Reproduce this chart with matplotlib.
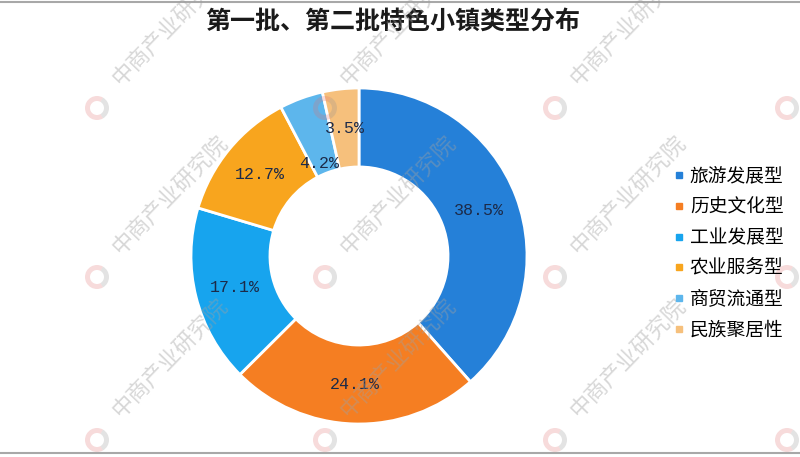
import matplotlib
matplotlib.use("Agg")
import matplotlib.pyplot as plt
import numpy as np
from matplotlib.lines import Line2D
from matplotlib.patches import Wedge

plt.rcParams["font.family"] = ["Noto Sans CJK SC", "DejaVu Sans"]

title = "第一批、第二批特色小镇类型分布"
categories = ["旅游发展型", "历史文化型", "工业发展型", "农业服务型", "商贸流通型", "民族聚居性"]
shares = [38.5, 24.1, 17.1, 12.7, 4.2, 3.5]
colors = ["#2580D8", "#F57E22", "#17A4EE", "#F8A51E", "#5DB6EC", "#F6C07C"]
watermark = "中商产业研究院"

W, H = 800, 457
fig = plt.figure(figsize=(W / 100, H / 100), dpi=100)

# pie centre at (359, 256) px, outer radius 168 px
cx, cy, R = 359, 256, 168
ax = fig.add_axes([(cx - R) / W, 1 - (cy + R) / H, 2 * R / W, 2 * R / H])

pct_labels = iter([f"{v}%" for v in shares])
wedges, _, autotexts = ax.pie(
    shares, colors=colors, startangle=90, counterclock=False,
    autopct=lambda p: next(pct_labels), pctdistance=0.765,
    wedgeprops=dict(width=0.47, edgecolor="white", linewidth=2),
    textprops=dict(family="Liberation Mono", fontsize=12, color="#1c2a48"),
)
ax.set_xlim(-1, 1)
ax.set_ylim(-1, 1)

# the small "4.2%" label sits further in, as in the source
w = wedges[4]
mid = np.deg2rad((w.theta1 + w.theta2) / 2 + 3)
autotexts[4].set_position((0.60 * np.cos(mid), 0.60 * np.sin(mid)))

fig.text(393 / W, 1 - 22 / H, title, ha="center", va="center",
         fontsize=18, weight="bold", color="#1a1a1a")

handles = [Line2D([], [], marker="s", ls="none", markersize=4.5, color=c) for c in colors]
fig.legend(handles, categories, loc="center left",
           bbox_to_anchor=(673 / W, 1 - 253 / H), frameon=False,
           fontsize=13.5, handlelength=0.6, handletextpad=0.3,
           labelspacing=0.52, borderpad=0, borderaxespad=0)

# thin rules at top and bottom
for yy in (2, 453):
    fig.add_artist(Line2D([0, 1], [1 - yy / H] * 2, transform=fig.transFigure,
                          color="#a8a8a8", lw=1.5))

# faint watermark
for lx in (97, 325, 555, 787):
    for ly in (108, 277, 440):
        xin, yin = lx / 100, (H - ly) / 100
        fig.add_artist(Wedge((xin, yin), 0.12, 60, 300, width=0.05,
                             transform=fig.dpi_scale_trans, color="#e07070",
                             alpha=0.25, lw=0))
        fig.add_artist(Wedge((xin, yin), 0.12, -60, 60, width=0.05,
                             transform=fig.dpi_scale_trans, color="#909090",
                             alpha=0.25, lw=0))
        if lx < 700:
            fig.text((lx + 20) / W, 1 - (ly - 26) / H, watermark, rotation=46,
                     rotation_mode="anchor", ha="left", va="center",
                     fontsize=16, color="#a0a0a0", alpha=0.42)

fig.savefig("out.png", dpi=100, facecolor="white")
